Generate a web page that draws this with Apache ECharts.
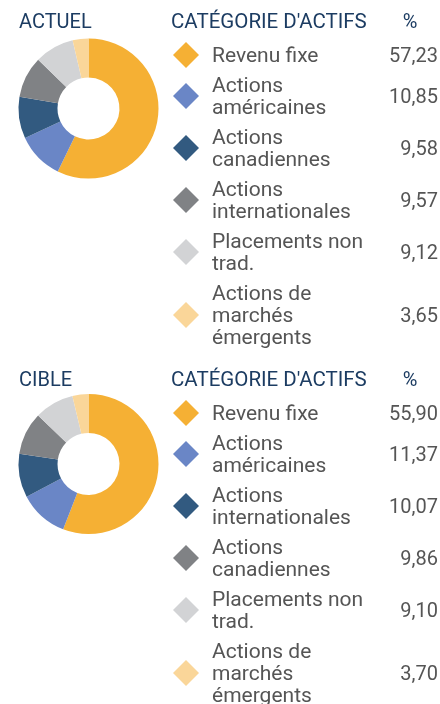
<!DOCTYPE html>
<html>
<head>
<meta charset="utf-8">
<script src="https://cdn.jsdelivr.net/npm/echarts@6/dist/echarts.min.js"></script>
<style>
  html, body { margin: 0; padding: 0; background: #fff; }
  #chart { width: 440px; height: 704px; }
</style>
</head>
<body>
<div id="chart"></div>
<script>
// data
const actuelNames = ["Revenu fixe", "Actions\naméricaines", "Actions\ncanadiennes", "Actions\ninternationales", "Placements non\ntrad.", "Actions de\nmarchés\némergents"];
const actuelValues = [57.23, 10.85, 9.58, 9.57, 9.12, 3.65];
const cibleNames = ["Revenu fixe", "Actions\naméricaines", "Actions\ninternationales", "Actions\ncanadiennes", "Placements non\ntrad.", "Actions de\nmarchés\némergents"];
const cibleValues = [55.90, 11.37, 10.07, 9.86, 9.10, 3.70];
const sliceColors = ["#F5B034", "#6A86C6", "#325A80", "#808285", "#D2D3D5", "#FAD699"];

const navy = "#1C3C62";
const grey = "#555555";
const fontFam = "Roboto, sans-serif";
const lineH = 22;
const rowGap = 8;
const textDy = 2; // roboto sits a bit high when centred

const chart = echarts.init(document.getElementById("chart"));

function fmt(v) {
  return v.toFixed(2).replace(".", ",");
}

// legend block: title, header, then one row per category
function buildLegend(title, names, values, top) {
  let els = [];
  const hy = top - 23 + textDy;
  els.push({ type: "text", style: { text: title, x: 19, y: hy, font: "20px " + fontFam, fill: navy, textVerticalAlign: "middle" } });
  els.push({ type: "text", style: { text: "CATÉGORIE D'ACTIFS", x: 171, y: hy, font: "20.5px " + fontFam, fill: navy, textVerticalAlign: "middle" } });
  els.push({ type: "text", style: { text: "%", x: 410, y: hy, font: "20px " + fontFam, fill: navy, textAlign: "center", textVerticalAlign: "middle" } });
  let y = top;
  names.forEach(function (n, i) {
    const lines = n.split("\n").length;
    const h = lines * lineH;
    const cy = y + h / 2;
    els.push({
      type: "polygon",
      shape: { points: [[186, cy - 13], [199, cy], [186, cy + 13], [173, cy]] },
      style: { fill: sliceColors[i] }
    });
    els.push({ type: "text", style: { text: n, x: 212, y: cy + textDy, font: "21px " + fontFam, fill: grey, lineHeight: lineH, textVerticalAlign: "middle" } });
    els.push({ type: "text", style: { text: fmt(values[i]), x: 438, y: cy + textDy, font: "20px " + fontFam, fill: grey, textAlign: "right", textVerticalAlign: "middle" } });
    y += h + rowGap;
  });
  return els;
}

function pieSeries(names, values, cy) {
  return {
    type: "pie",
    center: [88.5, cy],
    radius: [31, 70],
    startAngle: 90,
    clockwise: true,
    label: { show: false },
    labelLine: { show: false },
    silent: true,
    data: names.map(function (n, i) {
      return { name: n, value: values[i], itemStyle: { color: sliceColors[i] } };
    })
  };
}

chart.setOption({
  animation: false,
  backgroundColor: "#fff",
  series: [
    pieSeries(actuelNames, actuelValues, 108.5),
    pieSeries(cibleNames, cibleValues, 464)
  ],
  graphic: buildLegend("ACTUEL", actuelNames, actuelValues, 44).concat(buildLegend("CIBLE", cibleNames, cibleValues, 402))
});
</script>
</body>
</html>
